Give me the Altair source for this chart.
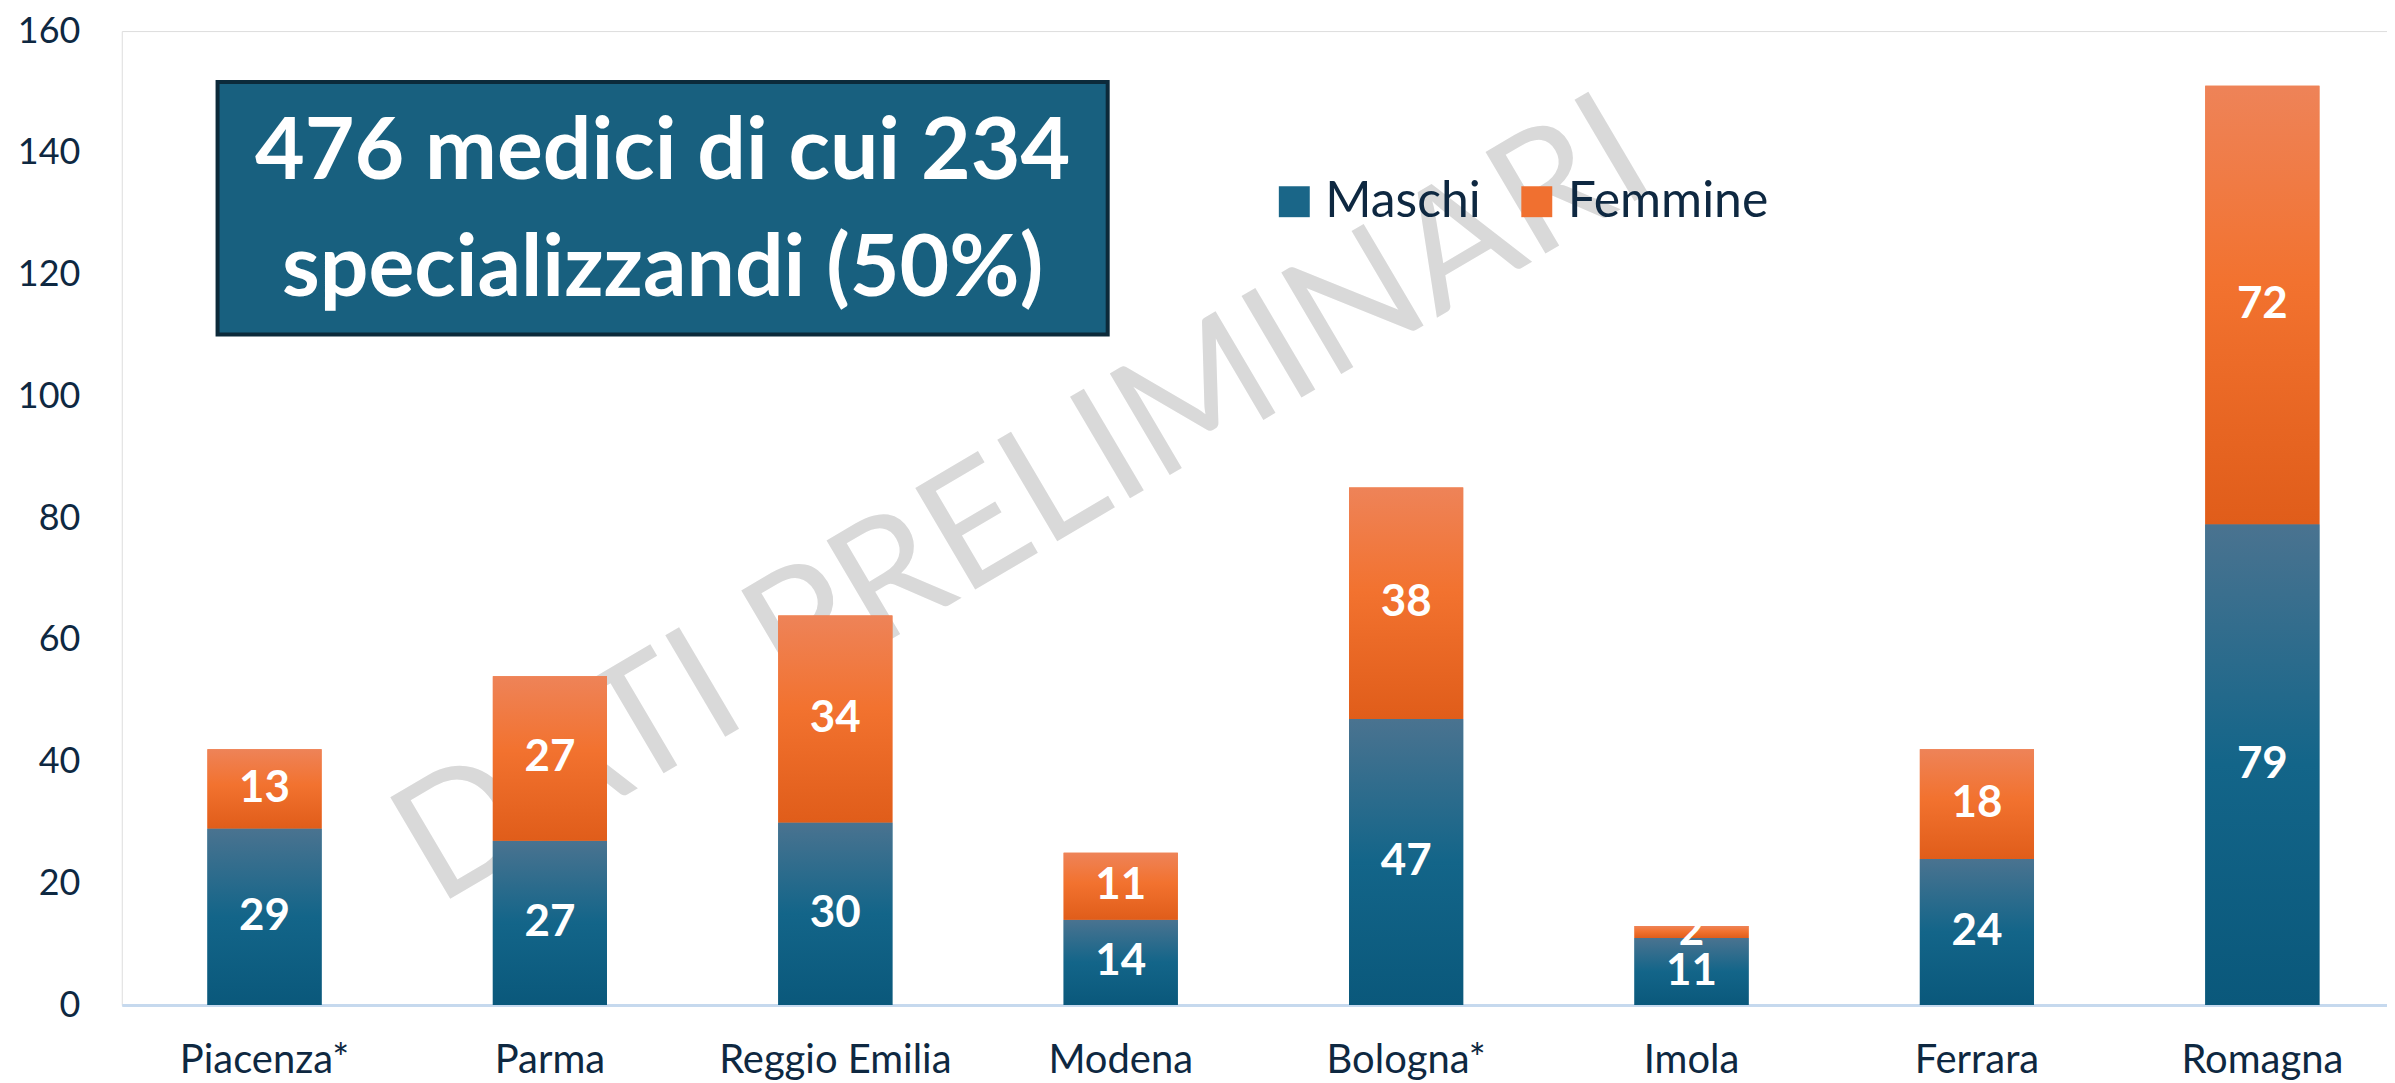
import altair as alt
import pandas as pd

regions = ["Piacenza*", "Parma", "Reggio Emilia", "Modena", "Bologna*", "Imola", "Ferrara", "Romagna"]
maschi = [29, 27, 30, 14, 47, 11, 24, 79]
femmine = [13, 27, 34, 11, 38, 2, 18, 72]
series = ["Maschi", "Femmine"]
y_ticks = [0, 20, 40, 60, 80, 100, 120, 140, 160]
title_lines = ["476 medici di cui 234", "specializzandi (50%)"]
watermark = "DATI PRELIMINARI"

rows = []
for r, m, f in zip(regions, maschi, femmine):
    rows.append({"Regione": r, "Serie": "Maschi", "Valore": m, "start": 0, "end": m})
    rows.append({"Regione": r, "Serie": "Femmine", "Valore": f, "start": m, "end": m + f})
df = pd.DataFrame(rows)
df["mid"] = (df["start"] + df["end"]) / 2

FONT = "Lato"
TXT = "#0e2841"

x_scale = alt.Scale(paddingInner=0.6, paddingOuter=0.2685, align=0.559)
x_enc = alt.X("Regione:N", sort=regions, scale=x_scale,
              axis=alt.Axis(title=None, labelAngle=0, labelFontSize=40, labelFont=FONT,
                            labelColor=TXT, domainColor="#c6d9ee", domainWidth=3,
                            ticks=False, labelPadding=36, labelLimit=0))
y_scale = alt.Scale(domain=[0, 160], nice=False)
y_axis = alt.Axis(title=None, values=y_ticks, domain=False, ticks=False, grid=False,
                  labelFontSize=36, labelFont=FONT, labelColor=TXT, labelPadding=42)

one = pd.DataFrame({"k": [0]})

wm = alt.Chart(one).mark_text(
    text=watermark, font=FONT, fontSize=165, fontWeight="normal", color="#d9d9d9",
    angle=329.5, align="center", baseline="middle"
).encode(x=alt.value(904), y=alt.value(473))

box = alt.Chart(one).mark_rect(
    fill="#18607f", stroke="#0c2a3a", strokeWidth=4
).encode(x=alt.value(96), x2=alt.value(988), y=alt.value(51), y2=alt.value(304))

box_text = alt.Chart(one).mark_text(
    text=title_lines, font=FONT, fontSize=86, fontWeight="bold", color="white",
    align="center", baseline="alphabetic", lineHeight=117
).encode(x=alt.value(542), y=alt.value(148))

base = alt.Chart(df).mark_bar().encode(
    x=x_enc,
    y=alt.Y("start:Q", scale=y_scale, axis=y_axis),
    y2="end:Q",
    color=alt.Color("Serie:N", scale=alt.Scale(domain=series, range=["#1a6688", "#f07030"]),
                    legend=alt.Legend(title=None, orient="none", legendX=1150, legendY=146,
                                      direction="horizontal", symbolType="square",
                                      symbolSize=961, symbolStrokeWidth=0,
                                      labelFontSize=50, labelFont=FONT, labelColor=TXT,
                                      labelOffset=6, columnPadding=31, padding=0,
                                      labelLimit=0)),
)

grad_m = alt.Gradient(gradient="linear", x1=0, x2=0, y1=0, y2=1, stops=[
    alt.GradientStop(color="#4a7390", offset=0),
    alt.GradientStop(color="#136589", offset=0.5),
    alt.GradientStop(color="#0a587b", offset=1),
])
grad_f = alt.Gradient(gradient="linear", x1=0, x2=0, y1=0, y2=1, stops=[
    alt.GradientStop(color="#ee8358", offset=0),
    alt.GradientStop(color="#f2722f", offset=0.45),
    alt.GradientStop(color="#e05d1a", offset=1),
])

bars_m = alt.Chart(df).transform_filter(alt.datum.Serie == "Maschi").mark_bar(fill=grad_m).encode(
    x=alt.X("Regione:N", sort=regions), y=alt.Y("start:Q", scale=y_scale), y2="end:Q")
bars_f = alt.Chart(df).transform_filter(alt.datum.Serie == "Femmine").mark_bar(fill=grad_f).encode(
    x=alt.X("Regione:N", sort=regions), y=alt.Y("start:Q", scale=y_scale), y2="end:Q")

labels = alt.Chart(df).mark_text(
    font=FONT, fontSize=44, fontWeight="bold", color="white", align="center", baseline="middle"
).encode(x=alt.X("Regione:N", sort=regions), y=alt.Y("mid:Q", scale=y_scale), text="Valore:Q")

chart = alt.layer(wm, box, box_text, base, bars_m, bars_f, labels).properties(
    width=2270, height=976,
    padding={"left": 114, "top": 22, "right": 0, "bottom": 75},
    autosize=alt.AutoSizeParams(type="none"),
).configure_view(stroke=None).configure(background="white")

chart.save("out.html", embed_options={"renderer": "svg", "actions": False})
